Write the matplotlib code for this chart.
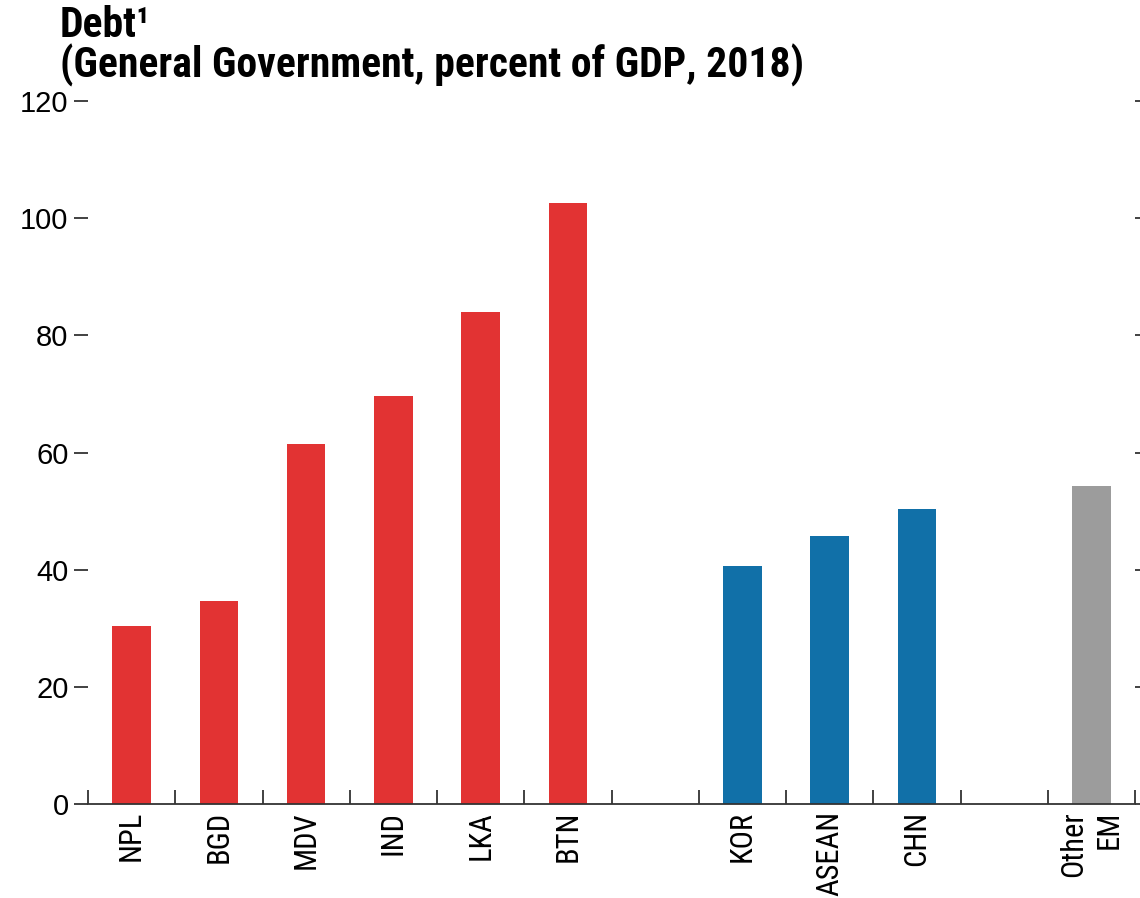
import matplotlib
matplotlib.use("Agg")
import matplotlib.pyplot as plt
from matplotlib import font_manager

categories = ["NPL", "BGD", "MDV", "IND", "LKA", "BTN", "", "KOR", "ASEAN", "CHN", "", "Other\nEM"]
values = [30.4, 34.6, 61.4, 69.6, 84.0, 102.6, None, 40.6, 45.7, 50.3, None, 54.3]
groups = ["SA", "SA", "SA", "SA", "SA", "SA", None, "EA", "EA", "EA", None, "EM"]
yticks = [0, 20, 40, 60, 80, 100, 120]
colors = {"SA": "#E23333", "EA": "#1170A8", "EM": "#9C9C9C"}
title = "Debt\u00b9\n(General Government, percent of GDP, 2018)"

# pick a condensed face if one is installed
fl = font_manager.fontManager.ttflist
names = {f.name for f in fl}
cond_family, cond_stretch = "DejaVu Sans", "normal"
for cand in ["Liberation Sans Narrow", "Roboto Condensed", "Open Sans Condensed", "DejaVu Sans Condensed"]:
    if cand in names:
        cond_family = cand
        break
else:
    if any(f.name == "DejaVu Sans" and "Condensed" in f.fname for f in fl):
        cond_stretch = "condensed"
is_cond = cond_family != "DejaVu Sans" or cond_stretch == "condensed"

plt.rcParams['font.family'] = [cond_family, 'DejaVu Sans']

fig = plt.figure(figsize=(11.4, 8.98), dpi=100)
ax = fig.add_axes([88/1140, 1-804/898, (1135-88)/1140, (804-101)/898])

xs = list(range(len(categories)))
for x, v, g in zip(xs, values, groups):
    if v is not None:
        ax.bar(x, v, width=0.44, color=colors[g], zorder=2)

ax.set_xlim(-0.5, len(categories) - 0.5)
ax.set_ylim(0, 120)

for s in ["left", "top", "right"]:
    ax.spines[s].set_visible(False)
ax.spines["bottom"].set_linewidth(1.3)
ax.spines["bottom"].set_color("#333333")

xl_size = 22 if is_cond else 17
ax.set_xticks(xs)
ax.set_xticklabels(categories, rotation=90, va="top", ha="center", multialignment="right",
                   fontsize=xl_size, linespacing=1.25, fontstretch=cond_stretch)
ax.tick_params(axis="x", which="major", length=0, pad=5)
ax.set_xticks([x - 0.5 for x in xs] + [len(categories) - 0.5], minor=True)
ax.tick_params(axis="x", which="minor", direction="in", length=10, width=1.3, color="#333333")

ax.set_yticks(yticks)
ax.set_yticklabels([str(t) for t in yticks], fontfamily=["Liberation Sans", "DejaVu Sans"], fontsize=21)
ax.tick_params(axis="y", which="major", direction="out", length=10, width=1.3, color="#333333",
               left=True, right=True, labelleft=True, labelright=False, pad=4)

t_size = 30 if is_cond else 20
fig.text(60/1140, 1-5/898, title, fontsize=t_size, fontweight="bold", va="top", ha="left",
         linespacing=0.92, fontstretch=cond_stretch)

fig.savefig("out.png", dpi=100)
